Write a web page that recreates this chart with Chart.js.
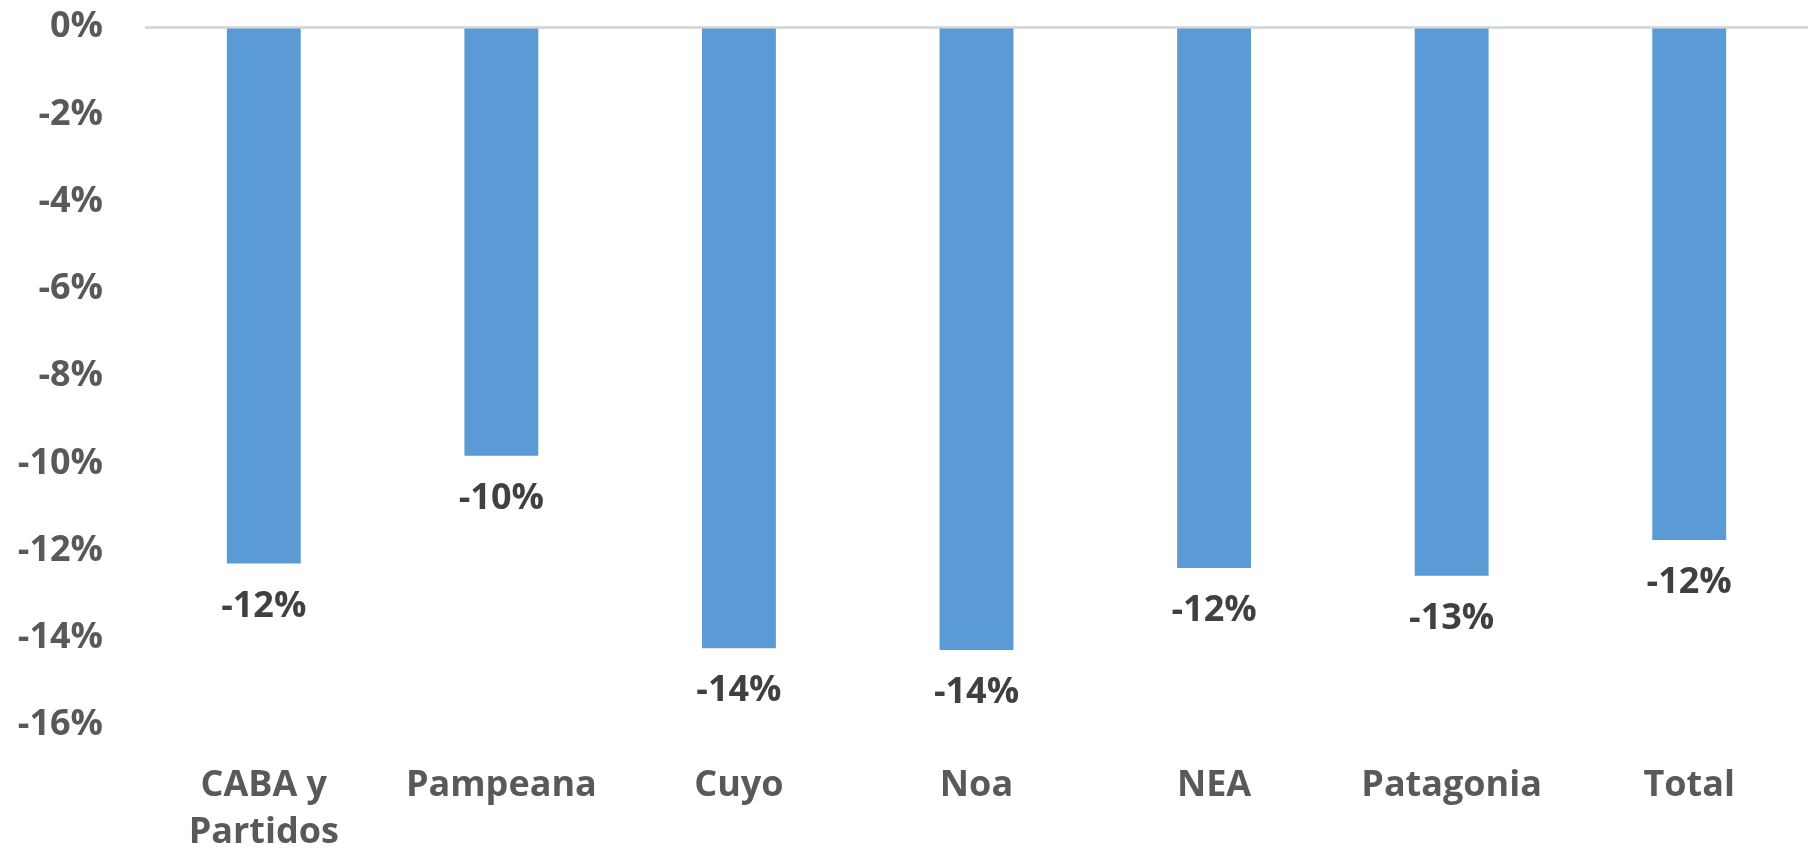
<!DOCTYPE html>
<html>
<head>
<meta charset="utf-8">
<script src="https://cdn.jsdelivr.net/npm/chart.js@4.4.0/dist/chart.umd.min.js"></script>
<style>
  html, body { margin: 0; padding: 0; background: #fff; }
  #chart { display: block; }
</style>
</head>
<body>
<canvas id="chart" width="1808" height="851"></canvas>
<script>
const regions = [['CABA y', 'Partidos'], 'Pampeana', 'Cuyo', 'Noa', 'NEA', 'Patagonia', 'Total'];
const variation = [-12.3, -9.83, -14.24, -14.28, -12.4, -12.58, -11.76];
const yTicks = [0, -2, -4, -6, -8, -10, -12, -14, -16];

const fontFamily = '"Open Sans", Lato, sans-serif';

// draws the rounded % under each bar end
const barLabels = {
  id: 'barLabels',
  afterDatasetsDraw(chart) {
    const ctx = chart.ctx;
    const meta = chart.getDatasetMeta(0);
    ctx.save();
    ctx.font = 'bold 36px ' + fontFamily;
    ctx.fillStyle = '#404040';
    ctx.textAlign = 'center';
    ctx.textBaseline = 'middle';
    meta.data.forEach((bar, i) => {
      const txt = Math.round(variation[i]) + '%';
      ctx.fillText(txt, bar.x, bar.y + 43);
    });
    ctx.restore();
  }
};

function drawChart() {
  const ctx = document.getElementById('chart').getContext('2d');
  const chart = new Chart(ctx, {
    type: 'bar',
    data: {
      labels: regions,
      datasets: [{
        data: variation,
        backgroundColor: '#5b9bd5',
        barPercentage: 0.311,
        categoryPercentage: 1
      }]
    },
    options: {
      responsive: false,
      animation: false,
      layout: { padding: { left: 0, right: 0, top: 0, bottom: 0 } },
      plugins: {
        legend: { display: false },
        tooltip: { enabled: false }
      },
      scales: {
        x: {
          afterFit(axis) { axis.height = 126; },
          grid: { display: false, drawTicks: false },
          border: { display: false },
          ticks: {
            color: '#595959',
            font: { family: fontFamily, size: 36, weight: 'bold', lineHeight: 1.31 },
            padding: 37,
            maxRotation: 0,
            autoSkip: false
          }
        },
        y: {
          min: -16,
          max: 0,
          afterBuildTicks(axis) {
            axis.ticks = yTicks.map(v => ({ value: v }));
          },
          afterFit(axis) {
            axis.width = 145;
            axis.paddingTop = 27;
            axis.paddingBottom = 0;
          },
          grid: {
            drawTicks: false,
            color: c => (c.tick && c.tick.value === 0 ? '#d9d9d9' : 'rgba(0,0,0,0)'),
            lineWidth: 3
          },
          border: { display: false },
          ticks: {
            color: '#595959',
            font: { family: fontFamily, size: 36, weight: 'bold' },
            padding: 42,
            callback: v => v + '%'
          }
        }
      }
    },
    plugins: [barLabels]
  });
  console.log('chartArea', JSON.stringify(chart.chartArea));
}

document.fonts.load('bold 36px "Open Sans"').then(drawChart, drawChart);
</script>
</body>
</html>
